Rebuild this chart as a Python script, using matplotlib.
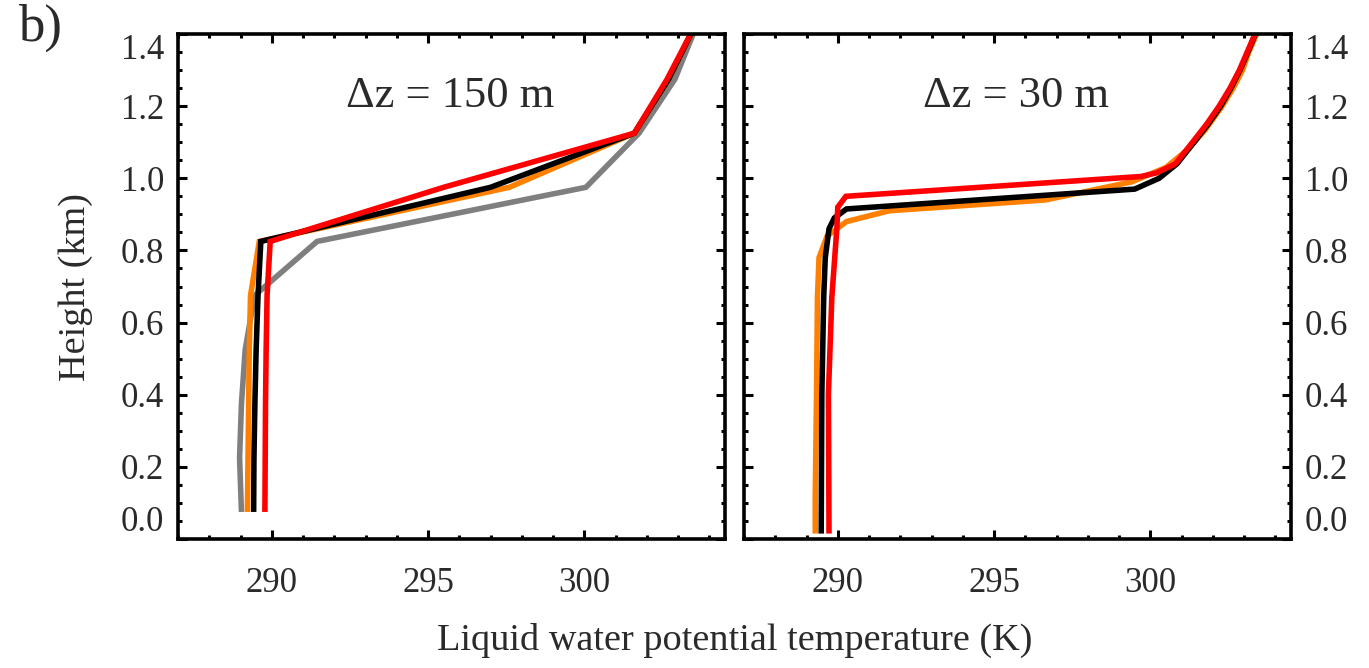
import matplotlib
matplotlib.use("Agg")
import matplotlib.pyplot as plt
from matplotlib.ticker import MultipleLocator

plt.rcParams['font.family'] = ['Liberation Serif', 'DejaVu Serif']

# ---------------- data ----------------
# Left panel (dz = 150 m): model levels (km)
z150 = [0.075, 0.225, 0.375, 0.525, 0.675, 0.825, 0.975, 1.125, 1.275, 1.425]
left_gray   = [289.03, 288.97, 289.03, 289.15, 289.45, 291.45, 300.05, 301.75, 302.90, 303.60]
left_orange = [289.22, 289.24, 289.26, 289.28, 289.32, 289.60, 297.60, 301.60, 302.70, 303.55]
left_black  = [289.42, 289.43, 289.46, 289.50, 289.56, 289.65, 297.00, 301.60, 302.70, 303.55]
left_red    = [289.78, 289.79, 289.80, 289.82, 289.85, 289.95, 295.50, 301.60, 302.65, 303.55]

# Right panel (dz = 30 m)
right_orange_z = [0.015, 0.12, 0.40, 0.67, 0.78, 0.84, 0.88, 0.91, 0.94, 0.99, 1.03,
                  1.08, 1.135, 1.20, 1.25, 1.30, 1.35, 1.40, 1.43]
right_orange_T = [289.28, 289.28, 289.32, 289.35, 289.40, 289.66, 290.28, 291.65, 296.65,
                  299.40, 300.50, 301.20, 301.76, 302.30, 302.65, 302.95, 303.15, 303.40, 303.50]
right_black_z = [0.015, 0.40, 0.67, 0.78, 0.86, 0.89, 0.915, 0.97, 1.00, 1.04,
                 1.10, 1.15, 1.20, 1.25, 1.30, 1.35, 1.40, 1.43]
right_black_T = [289.47, 289.49, 289.55, 289.60, 289.72, 289.89, 290.28, 299.50, 300.28, 300.85,
                 301.40, 301.85, 302.25, 302.58, 302.87, 303.12, 303.36, 303.50]
right_red_z = [0.015, 0.40, 0.67, 0.86, 0.92, 0.95, 1.005, 1.015, 1.04,
               1.10, 1.15, 1.20, 1.25, 1.30, 1.35, 1.40, 1.43]
right_red_T = [289.72, 289.70, 289.81, 289.97, 290.00, 290.26, 299.70, 300.20, 300.80,
               301.35, 301.80, 302.20, 302.55, 302.85, 303.10, 303.35, 303.50]

x_ticks = [290, 295, 300]
x_tick_labels = ['290', '295', '300']
y_ticks = [0.0, 0.2, 0.4, 0.6, 0.8, 1.0, 1.2, 1.4]
y_tick_labels = ['0.0', '0.2', '0.4', '0.6', '0.8', '1.0', '1.2', '1.4']
x_range = (287.0, 304.5)
y_range = (0.0, 1.4)

panel_titles = ['\u0394z = 150 m', '\u0394z = 30 m']
xlabel = 'Liquid water potential temperature (K)'
ylabel = 'Height (km)'
panel_tag = 'b)'

C_GRAY = '#7f7f7f'
C_ORANGE = '#ff8000'
C_BLACK = '#000000'
C_RED = '#ff0000'
TXT = '#2a2a2a'

# ---------------- figure ----------------
W, H = 1369, 668
fig = plt.figure(figsize=(W / 100, H / 100), dpi=100)

def px_axes(x0, x1, ytop, ybot):
    return fig.add_axes([x0 / W, 1 - ybot / H, (x1 - x0) / W, (ybot - ytop) / H])

ax1 = px_axes(178, 725, 34, 539)
ax2 = px_axes(744, 1291, 34, 539)

LW = 4.0
kw = dict(lw=LW, solid_capstyle='butt', solid_joinstyle='miter')

ax1.plot(left_gray, z150, color=C_GRAY, **kw)
ax1.plot(left_orange, z150, color=C_ORANGE, **kw)
ax1.plot(left_black, z150, color=C_BLACK, **kw)
ax1.plot(left_red, z150, color=C_RED, **kw)

ax2.plot(right_orange_T, right_orange_z, color=C_ORANGE, **kw)
ax2.plot(right_black_T, right_black_z, color=C_BLACK, **kw)
ax2.plot(right_red_T, right_red_z, color=C_RED, **kw)

TICK_FS = 25
for i, ax in enumerate((ax1, ax2)):
    ax.set_xlim(*x_range)
    ax.set_ylim(*y_range)
    ax.set_xticks(x_ticks)
    ax.set_xticklabels(x_tick_labels)
    ax.set_yticks(y_ticks)
    ax.set_yticklabels(y_tick_labels)
    ax.xaxis.set_minor_locator(MultipleLocator(1))
    ax.yaxis.set_minor_locator(MultipleLocator(0.05))
    for s in ax.spines.values():
        s.set_linewidth(2.6)
    ax.tick_params(which='both', direction='in', top=True, bottom=True,
                   left=True, right=True, width=2.2, colors='black',
                   labelcolor=TXT, labelsize=TICK_FS)
    ax.tick_params(which='major', length=6.5)
    ax.tick_params(which='minor', length=3.0)
    ax.tick_params(axis='x', which='major', pad=20)
    ax.tick_params(axis='y', which='major', pad=10)
    ax.text(0.497, 0.855, panel_titles[i], transform=ax.transAxes,
            ha='center', va='baseline', fontsize=32, color=TXT)

ax2.tick_params(axis='y', which='both', labelleft=False, labelright=True)

fig.canvas.draw()
for ax in (ax1, ax2):
    labs = [t for t in ax.yaxis.get_majorticklabels() if t.get_visible()]
    for t in labs:
        if t.get_text() == '0.0':
            t.set_va('bottom')
        elif t.get_text() == '1.4':
            t.set_va('top')

fig.text(734.5 / W, 1 - 640 / H, xlabel, ha='center', va='center',
         fontsize=27.5, color=TXT)
fig.text(76 / W, 1 - 287 / H, ylabel, ha='center', va='center',
         rotation=90, fontsize=27.5, color=TXT)
fig.text(18 / W, 1 - 4 / H, panel_tag, ha='left', va='top',
         fontsize=38, color=TXT)

fig.savefig('out.png', dpi=100)
